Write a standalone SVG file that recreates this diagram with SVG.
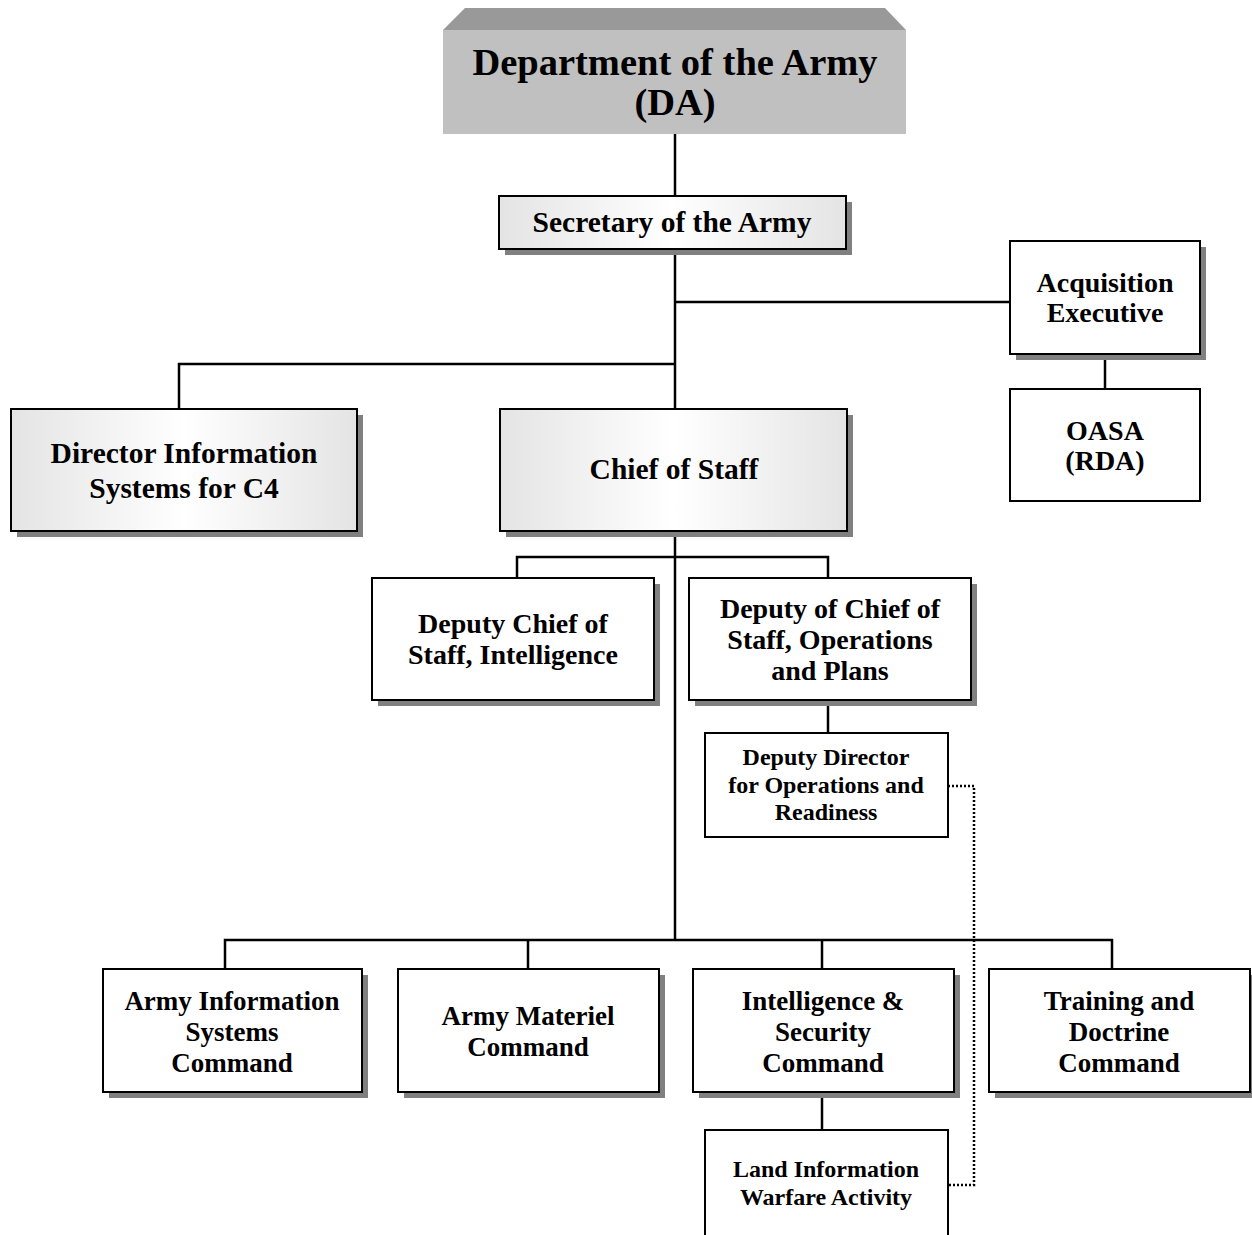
<svg xmlns="http://www.w3.org/2000/svg" width="1252" height="1235" viewBox="0 0 1252 1235">
<defs>
<linearGradient id="grad" x1="0" y1="0" x2="1" y2="0">
<stop offset="0" stop-color="#e4e4e4"/>
<stop offset="0.5" stop-color="#ffffff"/>
<stop offset="1" stop-color="#e4e4e4"/>
</linearGradient>
<style>
.box{fill:#ffffff;stroke:#000;stroke-width:2}
.gbox{fill:url(#grad);stroke:#000;stroke-width:2}
.shadow{fill:#808080}
.t{font-family:"Liberation Serif","Times New Roman",serif;font-weight:bold;fill:#000;text-anchor:middle}
.t29{font-size:29.5px}
.t28{font-size:28px}
.t27{font-size:27px}
.t24{font-size:24px}
.conn{stroke:#000;stroke-width:2.5;fill:none}
.dot{stroke:#000;stroke-width:2.5;fill:none;stroke-dasharray:2 2}
</style>
</defs>
<rect width="1252" height="1235" fill="#ffffff"/>

<g id="connectors">
<line class="conn" x1="675" y1="134" x2="675" y2="196"/>
<line class="conn" x1="675" y1="249" x2="675" y2="409"/>
<line class="conn" x1="675" y1="302" x2="1010" y2="302"/>
<polyline class="conn" points="675,364 179,364 179,409"/>
<line class="conn" x1="1105" y1="354" x2="1105" y2="389"/>
<line class="conn" x1="675" y1="531" x2="675" y2="940"/>
<polyline class="conn" points="517,578 517,557 828,557 828,578"/>
<line class="conn" x1="828" y1="700" x2="828" y2="733"/>
<polyline class="conn" points="225,969 225,940 1112,940 1112,969"/>
<line class="conn" x1="528" y1="940" x2="528" y2="969"/>
<line class="conn" x1="822" y1="940" x2="822" y2="969"/>
<line class="conn" x1="822" y1="1092" x2="822" y2="1130"/>
<polyline class="dot" points="948,786 974,786 974,1185 948,1185"/>
</g>

<g id="node-da">
<polygon points="465,8 885,8 906,30 443,30" fill="#999999"/>
<rect x="443" y="30" width="463" height="104" fill="#c0c0c0"/>
<text class="t" x="675" y="75" font-size="38.5">Department of the Army</text>
<text class="t" x="675" y="115" font-size="38.5">(DA)</text>
</g>

<g id="node-secretary">
<rect class="shadow" x="505" y="202" width="347" height="53"/>
<rect class="gbox" x="499" y="196" width="347" height="53"/>
<text class="t t29" x="672" y="232">Secretary of the Army</text>
</g>

<g id="node-acquisition">
<rect class="shadow" x="1016" y="247" width="190" height="113"/>
<rect class="box" x="1010" y="241" width="190" height="113"/>
<text class="t t28" x="1105" y="292">Acquisition</text>
<text class="t t28" x="1105" y="322">Executive</text>
</g>

<g id="node-oasa">
<rect class="box" x="1010" y="389" width="190" height="112"/>
<text class="t t28" x="1105" y="440">OASA</text>
<text class="t t28" x="1105" y="470">(RDA)</text>
</g>

<g id="node-director">
<rect class="shadow" x="17" y="415" width="346" height="122"/>
<rect class="gbox" x="11" y="409" width="346" height="122"/>
<text class="t t29" x="184" y="463">Director Information</text>
<text class="t t29" x="184" y="498">Systems for C4</text>
</g>

<g id="node-chief">
<rect class="shadow" x="506" y="415" width="347" height="122"/>
<rect class="gbox" x="500" y="409" width="347" height="122"/>
<text class="t t29" x="674" y="479">Chief of Staff</text>
</g>

<g id="node-dcs-intel">
<rect class="shadow" x="378" y="584" width="282" height="122"/>
<rect class="box" x="372" y="578" width="282" height="122"/>
<text class="t t28" x="513" y="633">Deputy Chief of</text>
<text class="t t28" x="513" y="664">Staff, Intelligence</text>
</g>

<g id="node-dcs-ops">
<rect class="shadow" x="695" y="584" width="282" height="122"/>
<rect class="box" x="689" y="578" width="282" height="122"/>
<text class="t t28" x="830" y="618">Deputy of Chief of</text>
<text class="t t28" x="830" y="649">Staff, Operations</text>
<text class="t t28" x="830" y="680">and Plans</text>
</g>

<g id="node-dd-ops">
<rect class="box" x="705" y="733" width="243" height="104"/>
<text class="t t24" x="826" y="765">Deputy Director</text>
<text class="t t24" x="826" y="793">for Operations and</text>
<text class="t t24" x="826" y="820">Readiness</text>
</g>

<g id="node-aisc">
<rect class="shadow" x="109" y="975" width="259" height="123"/>
<rect class="box" x="103" y="969" width="259" height="123"/>
<text class="t t27" x="232" y="1010">Army Information</text>
<text class="t t27" x="232" y="1041">Systems</text>
<text class="t t27" x="232" y="1072">Command</text>
</g>

<g id="node-amc">
<rect class="shadow" x="404" y="975" width="261" height="123"/>
<rect class="box" x="398" y="969" width="261" height="123"/>
<text class="t t27" x="528" y="1025">Army Materiel</text>
<text class="t t27" x="528" y="1056">Command</text>
</g>

<g id="node-inscom">
<rect class="shadow" x="699" y="975" width="261" height="123"/>
<rect class="box" x="693" y="969" width="261" height="123"/>
<text class="t t27" x="823" y="1010">Intelligence &amp;</text>
<text class="t t27" x="823" y="1041">Security</text>
<text class="t t27" x="823" y="1072">Command</text>
</g>

<g id="node-tradoc">
<rect class="shadow" x="995" y="975" width="261" height="123"/>
<rect class="box" x="989" y="969" width="261" height="123"/>
<text class="t t27" x="1119" y="1010">Training and</text>
<text class="t t27" x="1119" y="1041">Doctrine</text>
<text class="t t27" x="1119" y="1072">Command</text>
</g>

<g id="node-liwa">
<rect class="box" x="705" y="1130" width="243" height="130"/>
<text class="t t24" x="826" y="1177">Land Information</text>
<text class="t t24" x="826" y="1205">Warfare Activity</text>
</g>
</svg>
